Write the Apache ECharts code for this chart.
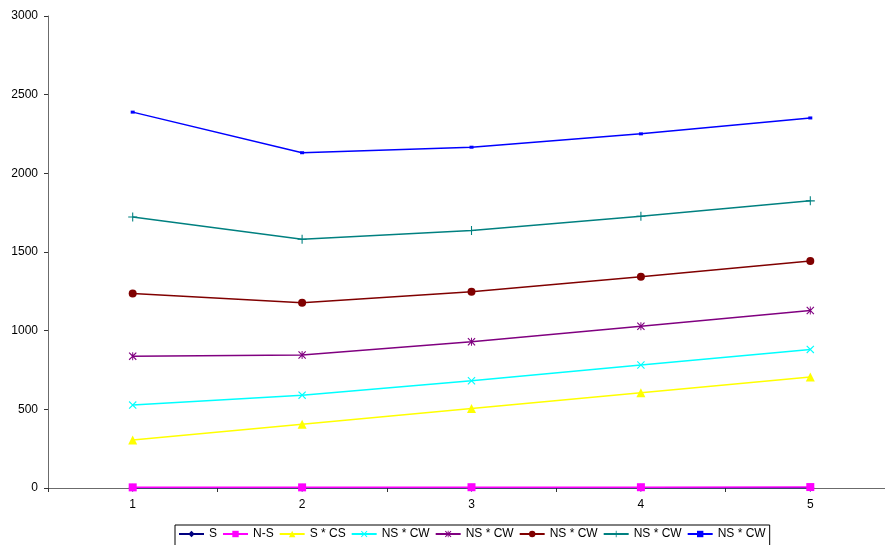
<!DOCTYPE html>
<html>
<head>
<meta charset="utf-8">
<script src="https://cdn.jsdelivr.net/npm/echarts@6/dist/echarts.min.js"></script>
<style>
html,body{margin:0;padding:0;background:#fff;}
#chart{width:885px;height:545px;}
</style>
</head>
<body>
<div id="chart"></div>
<script>
const categories = ['1', '2', '3', '4', '5'];
const yTicks = [0, 500, 1000, 1500, 2000, 2500, 3000];
const seriesNames = ['S', 'N-S', 'S * CS', 'NS * CW', 'NS * CW', 'NS * CW', 'NS * CW', 'NS * CW'];
const sValues = [1, 1, 1, 1, 1];
const nsValues = [4, 4, 5, 5, 6];
const sCsValues = [305, 405, 505, 605, 705];
const nsCw1Values = [527, 590, 682, 782, 881];
const nsCw2Values = [838, 845, 930, 1028, 1128];
const nsCw3Values = [1236, 1178, 1247, 1342, 1443];
const nsCw4Values = [1722, 1581, 1637, 1727, 1825];
const nsCw5Values = [2389, 2131, 2166, 2251, 2352];

const allValues = [sValues, nsValues, sCsValues, nsCw1Values, nsCw2Values, nsCw3Values, nsCw4Values, nsCw5Values];
const colors = ['#000080', '#FF00FF', '#FFFF00', '#00FFFF', '#800080', '#800000', '#008080', '#0000FF'];
const X = 'path://M0,1L1,0L5,4L9,0L10,1L6,5L10,9L9,10L5,6L1,10L0,9L4,5Z';
const PLUS = 'path://M4.4,0H5.6V4.4H10V5.6H5.6V10H4.4V5.6H0V4.4H4.4Z';
const AST = 'path://M0,1L1,0L5,4L9,0L10,1L6,5L10,9L9,10L5,6L1,10L0,9L4,5ZM4.4,0H5.6V10H4.4Z';
const symbols = ['diamond', 'rect', 'triangle', X, AST, 'circle', PLUS, 'rect'];
const sizes = [8, 8, 9, 8, 8, 8, 9, [4, 3]];

const chart = echarts.init(document.getElementById('chart'));
const series = allValues.map((vals, i) => ({
  name: seriesNames[i] + '#' + i,
  type: 'line',
  data: vals,
  symbol: symbols[i],
  symbolSize: sizes[i],
  showAllSymbol: true,
  lineStyle: { color: colors[i], width: 1.5 },
  itemStyle: { color: colors[i], borderWidth: 0 },
  animation: false,
  z: 3 + i
}));

chart.setOption({
  backgroundColor: '#ffffff',
  animation: false,
  textStyle: { fontFamily: 'Liberation Sans, Arial, sans-serif' },
  grid: { left: 48, top: 16, width: 847, height: 472, containLabel: false, outerBoundsMode: 'none' },
  legend: {
    left: 175, top: 525,
    padding: [3, 4, 6, 3],
    borderColor: '#000', borderWidth: 1,
    itemWidth: 25, itemHeight: 8, itemGap: 5,
    textStyle: { fontSize: 12, color: '#000', fontFamily: 'Liberation Sans, Arial, sans-serif' },
    formatter: name => name.replace(/#\d+$/, ''),
    data: series.map(s => s.name)
  },
  xAxis: {
    type: 'category',
    data: categories,
    boundaryGap: true,
    axisLine: { lineStyle: { color: '#6b6b6b', width: 1 } },
    axisTick: { show: true, length: 4, inside: false, lineStyle: { color: '#333' } },
    axisLabel: { color: '#000', fontSize: 12, margin: 11 },
    splitLine: { show: false }
  },
  yAxis: {
    type: 'value',
    min: yTicks[0], max: yTicks[yTicks.length - 1], interval: 500,
    axisLine: { show: true, lineStyle: { color: '#6b6b6b', width: 1 } },
    axisTick: { show: true, length: 4, lineStyle: { color: '#333' } },
    axisLabel: { color: '#000', fontSize: 12, margin: 10, formatter: v => String(v) },
    splitLine: { show: false }
  },
  series: series
});
</script>
</body>
</html>
